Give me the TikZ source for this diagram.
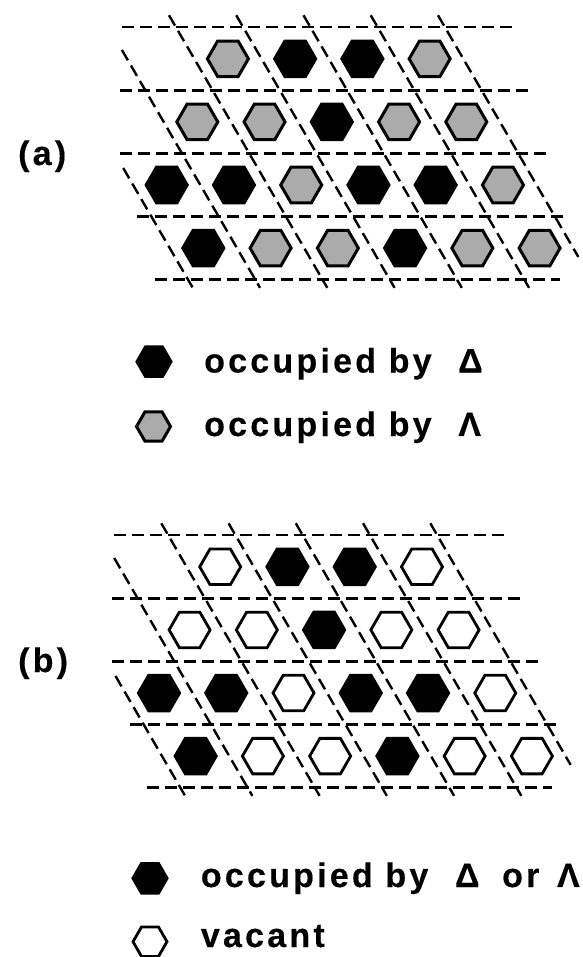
\documentclass[tikz,border=0pt]{standalone}
\usepackage{fontspec}
\setmainfont{Liberation Sans}
\newfontfamily\labfont[LetterSpace=9.5, BoldFeatures={FakeBold=0.35}]{Liberation Sans}
\usetikzlibrary{shapes.geometric}
\tikzset{
  hexbase/.style={regular polygon, regular polygon sides=6, inner sep=0pt, draw=black, line width=3pt, minimum size=41pt},
  hexB/.style={hexbase, fill=black},
  hexG/.style={hexbase, fill=black!33},
  hexW/.style={hexbase, fill=white, line width=2.8pt},
  gridline/.style={line width=2.4pt, dash pattern=on 12pt off 6pt},
  lab/.style={font={\labfont\bfseries\fontsize{34pt}{40pt}\selectfont}, inner sep=0pt, anchor=base west},
}
\newcommand\latticepanel[4]{%
  \begin{scope}[shift={(166.7+#1,185+#2)}, x={(67.25pt,0pt)}, y={(36.65pt,-63.1pt)}, hexL/.style={hex#4}]
    \draw[gridline] (0.70,-2.5) -- (6.51,-2.5);
    \draw[gridline] (0.12,-1.5) -- (6.22,-1.5);
    \draw[gridline] (-0.42,-0.5) -- (5.94,-0.5);
    \draw[gridline] (-0.71,0.5) -- (5.68,0.5);
    \draw[gridline] (-0.99,1.5) -- (5.03,1.5);
    \draw[gridline] (-0.5,-0.27) -- (-0.5,1.63);
    \draw[gridline] (0.5,-2.14) -- (0.5,1.63);
    \foreach \u in {1.5,2.5,3.5,4.5}
      \draw[gridline] (\u,-2.69) -- (\u,1.63);
    \draw[gridline] (5.5,-2.69) -- (5.5,1.14);
    \foreach \i/\r/\k in {2/1/L,3/1/B,4/1/B,5/1/L,
                         1/2/L,2/2/L,3/2/B,4/2/L,5/2/L,
                         0/3/B,1/3/B,2/3/L,3/3/B,4/3/B,5/3/L,
                         0/4/B,1/4/L,2/4/L,3/4/B,4/4/L,5/4/L}
      \node[hex\k] (#3\r\i) at (\i,\r-3) {};
  \end{scope}}
\begin{document}
\begin{tikzpicture}[x=1pt,y=-1pt]
  \useasboundingbox (0,0) rectangle (582,957);
  % panel (a)
  \latticepanel{0}{0}{a}{G}
  \node[lab] (labela) at (18,165) {(a)};
  \node[hexB, minimum size=34pt] (keyaB) at (154,361.7) {};
  \node[hexG, minimum size=34pt] (keyaG) at (153.5,426.5) {};
  \node[lab] (textaB) at (204,372.5) {occupied by \hspace{14pt}Δ};
  \node[lab] (textaG) at (204,436) {occupied by \hspace{14pt}Λ};
  % panel (b)
  \latticepanel{-7.7}{508}{b}{W}
  \node[lab] (labelb) at (18,672) {(b)};
  \node[hexB, minimum size=34pt] (keybB) at (150,878.3) {};
  \node[hexW, minimum size=34pt] (keybW) at (150,941.7) {};
  \node[lab] (textbB) at (200.7,887) {occupied by \hspace{14pt}Δ \hspace{10pt}or \hspace{5pt}Λ};
  \node[lab] (textbW) at (200.7,947) {vacant};
\end{tikzpicture}
\end{document}
